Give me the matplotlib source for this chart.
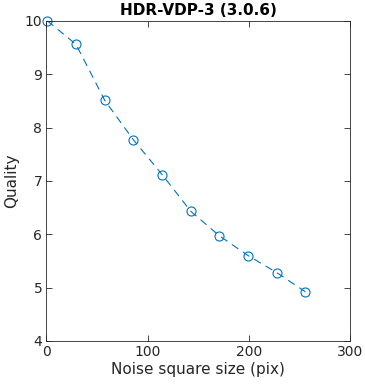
import matplotlib
matplotlib.use("Agg")
import matplotlib.pyplot as plt

noise_size = [1, 29.3, 57.7, 86, 114.3, 142.7, 171, 199.3, 227.7, 256]
quality = [10.0, 9.56, 8.51, 7.77, 7.12, 6.43, 5.97, 5.60, 5.28, 4.92]

dark = '#262626'
fig = plt.figure(figsize=(3.65, 3.87), dpi=100)
ax = fig.add_axes([0.127, 0.119, 0.832, 0.827])
ax.plot(noise_size, quality, '--o', color='#0072BD', lw=0.8,
        markersize=6.5, markerfacecolor='none', markeredgewidth=0.8,
        dashes=(7, 5), clip_on=False)
ax.set_xlim(0, 300)
ax.set_ylim(4, 10)
ax.set_xticks([0, 100, 200, 300])
ax.set_yticks([4, 5, 6, 7, 8, 9, 10])
ax.tick_params(direction='in', top=True, right=True, length=4, width=0.6,
               labelsize=10, colors=dark, pad=3)
for s in ax.spines.values():
    s.set_linewidth(0.6)
    s.set_color(dark)
ax.set_xlabel('Noise square size (pix)', fontsize=11, color=dark, labelpad=2)
ax.set_ylabel('Quality', fontsize=11, color=dark, labelpad=4)
ax.set_title('HDR-VDP-3 (3.0.6)', fontsize=11, fontweight='bold', pad=4)
fig.savefig('out.png', dpi=100)
